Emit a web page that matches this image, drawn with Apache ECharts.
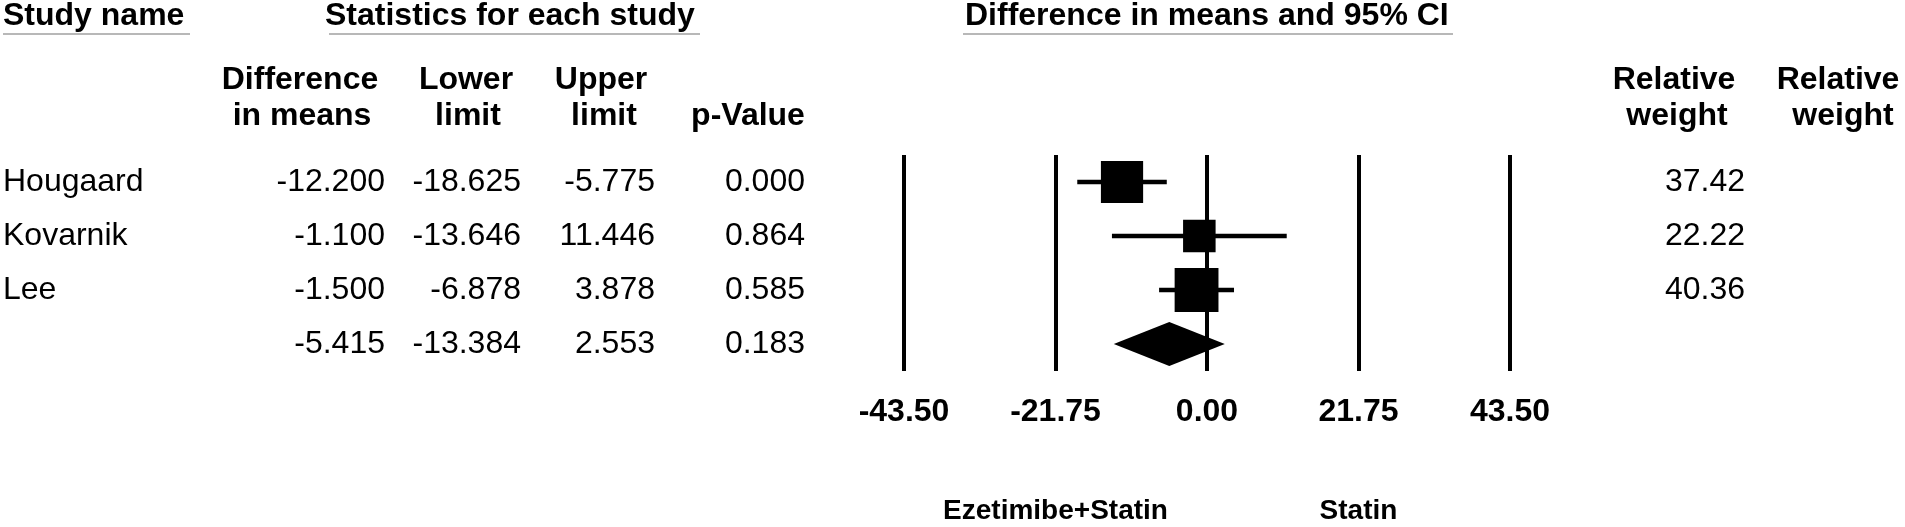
<!DOCTYPE html>
<html>
<head>
<meta charset="utf-8">
<script src="https://cdn.jsdelivr.net/npm/echarts@6/dist/echarts.min.js"></script>
<style>
  html, body { margin: 0; padding: 0; background: #fff; }
  #chart { width: 1905px; height: 527px; }
</style>
</head>
<body>
<div id="chart"></div>
<script>
// ---- data ----
const studyNames = ['Hougaard', 'Kovarnik', 'Lee', ''];
const diffMeans = [-12.200, -1.100, -1.500, -5.415];
const lowerLimits = [-18.625, -13.646, -6.878, -13.384];
const upperLimits = [-5.775, 11.446, 3.878, 2.553];
const pValues = [0.000, 0.864, 0.585, 0.183];
const relWeights = [37.42, 22.22, 40.36, null];
const isSummary = [false, false, false, true];
const xTickMin = -43.5, xTickMax = 43.5, xTickStep = 21.75;
const leftLabel = 'Ezetimibe+Statin', rightLabel = 'Statin';

const FONT = '"Liberation Sans", Arial, Helvetica, sans-serif';
const rows = studyNames.map((_, i) => i);

const chart = echarts.init(document.getElementById('chart'), null, { renderer: 'canvas' });

const GL = 904, GR = 1510;
function colAxis(values, pos, offset, align) {
  return {
    type: 'category', data: values, inverse: true, position: pos, offset: offset,
    axisLine: { show: false }, axisTick: { show: false }, splitLine: { show: false },
    axisLabel: { show: true, interval: 0, margin: 0, align: align, color: '#000',
      fontFamily: FONT, fontSize: 32, fontWeight: 'normal' }
  };
}

const markData = rows.map(i => [diffMeans[i], lowerLimits[i], upperLimits[i], i,
  relWeights[i] == null ? 0 : relWeights[i], isSummary[i] ? 1 : 0]);

const option = {
  animation: false,
  backgroundColor: '#fff',
  grid: { left: GL, width: GR - GL, top: 155, height: 216, containLabel: false, outerBoundsMode: 'none' },
  xAxis: {
    type: 'value', min: xTickMin, max: xTickMax, interval: xTickStep,
    axisLine: { show: false }, axisTick: { show: false },
    splitLine: { show: true, lineStyle: { color: '#000', width: 4 } },
    axisLabel: { show: true, margin: 25, color: '#000', fontFamily: FONT, fontSize: 32, fontWeight: 'bold',
      showMinLabel: true, showMaxLabel: true, formatter: v => v.toFixed(2) }
  },
  yAxis: [
    { type: 'category', data: rows.map(String), inverse: true, show: false },
    colAxis(studyNames, 'left', GL - 3, 'left'),
    colAxis(diffMeans.map(v => v.toFixed(3)), 'left', GL - 385, 'right'),
    colAxis(lowerLimits.map(v => v.toFixed(3)), 'left', GL - 521, 'right'),
    colAxis(upperLimits.map(v => v.toFixed(3)), 'left', GL - 655, 'right'),
    colAxis(pValues.map(v => v.toFixed(3)), 'left', GL - 805, 'right'),
    colAxis(relWeights.map(v => v == null ? '' : v.toFixed(2)), 'right', 1745 - GR, 'right')
  ],
  series: [{
    type: 'custom',
    xAxisIndex: 0, yAxisIndex: 0,
    data: markData,
    encode: { x: [0, 1, 2], y: 3 },
    renderItem: function (params, api) {
      const est = api.value(0), lo = api.value(1), hi = api.value(2), r = api.value(3);
      const w = api.value(4), summ = api.value(5);
      const pe = api.coord([est, r]);
      const pl = api.coord([lo, r]);
      const ph = api.coord([hi, r]);
      if (summ) {
        const hh = 22;
        return {
          type: 'polygon',
          shape: { points: [[pl[0], pe[1]], [pe[0], pe[1] - hh], [ph[0], pe[1]], [pe[0], pe[1] + hh]] },
          style: { fill: '#000' }
        };
      }
      const s = 6.9 * Math.sqrt(w);
      return {
        type: 'group',
        children: [
          { type: 'line', shape: { x1: pl[0], y1: pl[1], x2: ph[0], y2: ph[1] },
            style: { stroke: '#000', lineWidth: 4.5 } },
          { type: 'rect', shape: { x: pe[0] - s / 2, y: pe[1] - s / 2, width: s, height: s },
            style: { fill: '#000' } }
        ]
      };
    }
  }]
};
chart.setOption(option);

// ---- header texts ----
function txt(t, x, y, bold, align, size) {
  return { type: 'text', x: x, y: y, silent: true,
    style: { text: t, fill: '#000', font: (bold ? 'bold ' : '') + (size || 32) + 'px ' + FONT,
      align: align || 'center', verticalAlign: 'middle' } };
}
function uline(x1, x2, y) {
  return { type: 'line', silent: true, shape: { x1: x1, y1: y, x2: x2, y2: y },
    style: { stroke: '#b8b8b8', lineWidth: 2 } };
}
const leftPx = chart.convertToPixel({ gridIndex: 0 }, [-xTickStep, 0])[0];
const rightPx = chart.convertToPixel({ gridIndex: 0 }, [xTickStep, 0])[0];

chart.setOption({
  graphic: [
    txt('Study name', 3, 16, true, 'left'),
    uline(3, 190, 34),
    txt('Statistics for each study', 325, 16, true, 'left'),
    uline(329, 700, 34),
    txt('Difference in means and 95% CI', 965, 16, true, 'left'),
    uline(963, 1453, 34),
    txt('Difference', 300, 80, true),
    txt('in means', 302, 116, true),
    txt('Lower', 466, 80, true),
    txt('limit', 468, 116, true),
    txt('Upper', 601, 80, true),
    txt('limit', 604, 116, true),
    txt('p-Value', 748, 116, true),
    txt('Relative', 1674, 80, true),
    txt('weight', 1677, 116, true),
    txt('Relative', 1838, 80, true),
    txt('weight', 1843, 116, true),
    txt(leftLabel, leftPx, 511, true, 'center', 28),
    txt(rightLabel, rightPx, 511, true, 'center', 28)
  ]
});
</script>
</body>
</html>
